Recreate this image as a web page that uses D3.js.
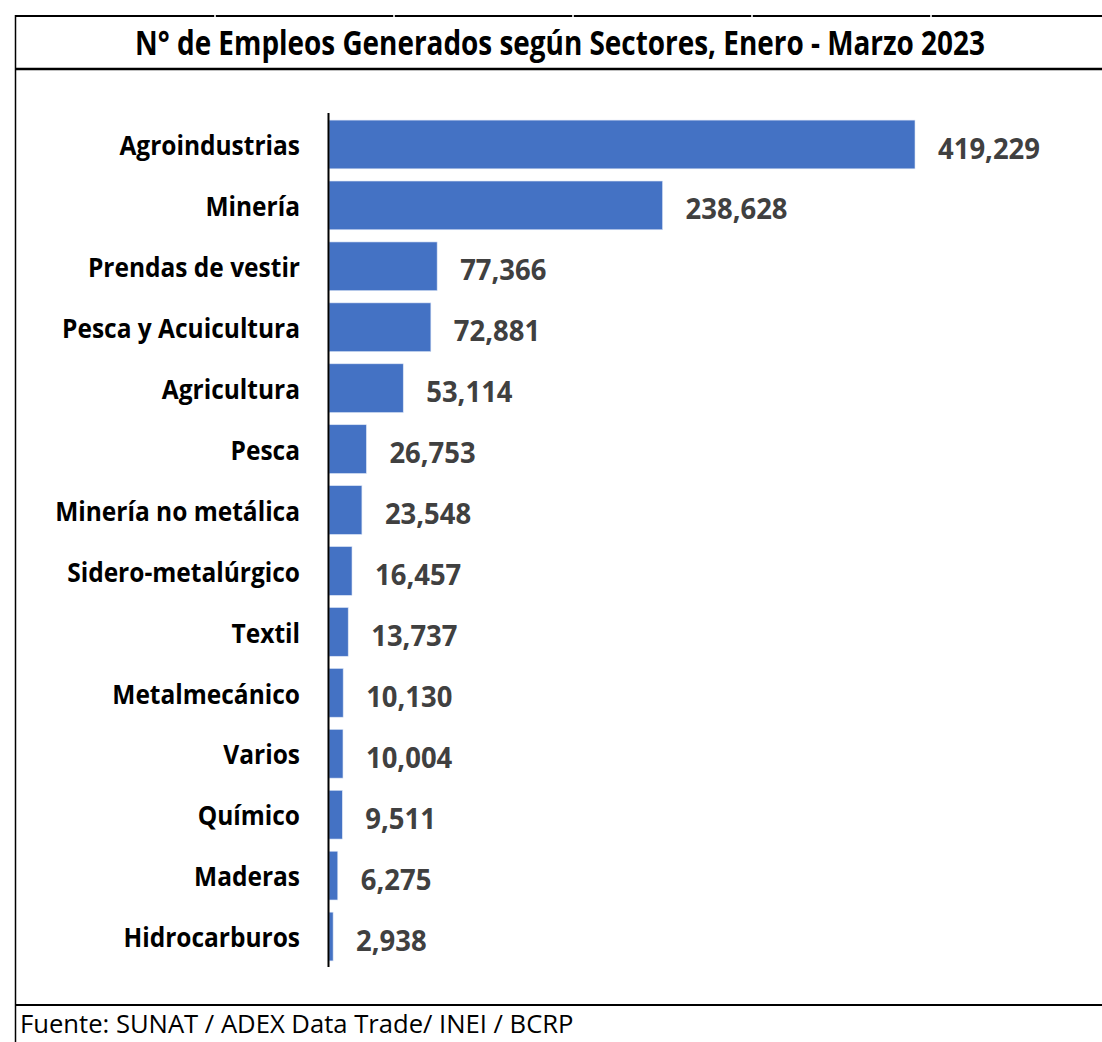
<!DOCTYPE html>
<html>
<head>
<meta charset="utf-8">
<script src="https://cdn.jsdelivr.net/npm/d3@7"></script>
<style>
  body { margin: 0; background: #fff; }
  svg { display: block; }
</style>
</head>
<body>
<div id="chart"></div>
<script>
const sectores = ["Agroindustrias", "Minería", "Prendas de vestir", "Pesca y Acuicultura", "Agricultura",
  "Pesca", "Minería no metálica", "Sidero-metalúrgico", "Textil", "Metalmecánico", "Varios",
  "Químico", "Maderas", "Hidrocarburos"];
const empleos = [419229, 238628, 77366, 72881, 53114, 26753, 23548, 16457, 13737, 10130, 10004, 9511, 6275, 2938];

const titulo = "N° de Empleos Generados según Sectores, Enero - Marzo 2023";
const fuente = "Fuente: SUNAT / ADEX Data Trade/ INEI / BCRP";

const w = 1102, h = 1042;
const axisX = 329;

const svg = d3.select("#chart").append("svg")
  .attr("width", w)
  .attr("height", h);

// frame (looks like excel cell borders)
svg.append("line").attr("x1", 15).attr("x2", w).attr("y1", 16).attr("y2", 16)
  .attr("stroke", "#000").attr("stroke-width", 2);
svg.append("line").attr("x1", 15.5).attr("x2", 15.5).attr("y1", 15).attr("y2", h)
  .attr("stroke", "#000").attr("stroke-width", 1.5);
svg.append("line").attr("x1", 15).attr("x2", w).attr("y1", 69).attr("y2", 69)
  .attr("stroke", "#000").attr("stroke-width", 2.5);
svg.append("line").attr("x1", 15).attr("x2", w).attr("y1", 1005).attr("y2", 1005)
  .attr("stroke", "#000").attr("stroke-width", 2);

// little gridline specks on top border
[215, 394, 573, 752, 931].forEach(x => {
  svg.append("rect").attr("x", x - 1).attr("y", 15).attr("width", 2).attr("height", 2).attr("fill", "#ccc");
});

// fits a text node to a given width by squeezing it horizontally
function squeeze(node, target) {
  return target / node.getComputedTextLength();
}

// title
const tg = svg.append("g");
const tt = tg.append("text")
  .attr("x", 0).attr("y", 0)
  .attr("text-anchor", "middle")
  .style("font-family", "'Open Sans', sans-serif")
  .style("font-weight", "bold")
  .style("font-size", "34px")
  .attr("fill", "#000")
  .text(titulo);
tg.attr("transform", "translate(560,55) scale(" + squeeze(tt.node(), 850) + ",1)");

let yScale = d3.scaleBand()
  .domain(sectores)
  .range([114, 967])
  .paddingInner(0.2)
  .paddingOuter(0.1);

let xScale = d3.scaleLinear()
  .domain([0, d3.max(empleos)])
  .range([axisX, 915]);

const data = sectores.map((s, i) => ({ sector: s, valor: empleos[i] }));

svg.selectAll("rect.bar")
  .data(data)
  .enter()
  .append("rect")
  .attr("class", "bar")
  .attr("x", xScale(0))
  .attr("y", d => yScale(d.sector))
  .attr("width", d => xScale(d.valor) - xScale(0))
  .attr("height", yScale.bandwidth())
  .attr("fill", "#4472C4")
  .attr("stroke", "#dbe4f5")
  .attr("stroke-width", 0.6);

// axis line
svg.append("line")
  .attr("x1", axisX - 0.5).attr("x2", axisX - 0.5)
  .attr("y1", 113).attr("y2", 967)
  .attr("stroke", "#000").attr("stroke-width", 2);

// category labels
const lg = svg.append("g");
lg.selectAll("text")
  .data(data)
  .enter()
  .append("text")
  .attr("x", 0)
  .attr("y", d => yScale(d.sector) + yScale.bandwidth() / 2 + 1)
  .attr("dy", "0.36em")
  .attr("text-anchor", "end")
  .style("font-family", "'Open Sans', sans-serif")
  .style("font-weight", "bold")
  .style("font-size", "27px")
  .attr("fill", "#000")
  .text(d => d.sector);
const ref = lg.selectAll("text").filter(d => d.sector == "Minería no metálica").node();
lg.attr("transform", "translate(300,0) scale(" + squeeze(ref, 245) + ",1)");

// value labels
const fmt = d3.format(",");
const probe = svg.append("text")
  .style("font-family", "'Open Sans', sans-serif")
  .style("font-weight", "bold")
  .style("font-size", "28px")
  .text(fmt(d3.max(empleos)));
const sv = squeeze(probe.node(), 102);
probe.remove();

svg.selectAll("g.val")
  .data(data)
  .enter()
  .append("g")
  .attr("class", "val")
  .attr("transform", d => "translate(" + (xScale(d.valor) + 23) + "," + (yScale(d.sector) + yScale.bandwidth() / 2 + 4) + ") scale(" + sv + ",1)")
  .append("text")
  .attr("dy", "0.36em")
  .style("font-family", "'Open Sans', sans-serif")
  .style("font-weight", "bold")
  .style("font-size", "28px")
  .attr("fill", "#404040")
  .text(d => fmt(d.valor));

// source
const fg = svg.append("g");
const ft = fg.append("text")
  .attr("x", 0).attr("y", 0)
  .style("font-family", "'Open Sans', sans-serif")
  .style("font-size", "25px")
  .attr("fill", "#000")
  .text(fuente);
fg.attr("transform", "translate(20,1033) scale(" + squeeze(ft.node(), 554) + ",1)");
</script>
</body>
</html>
